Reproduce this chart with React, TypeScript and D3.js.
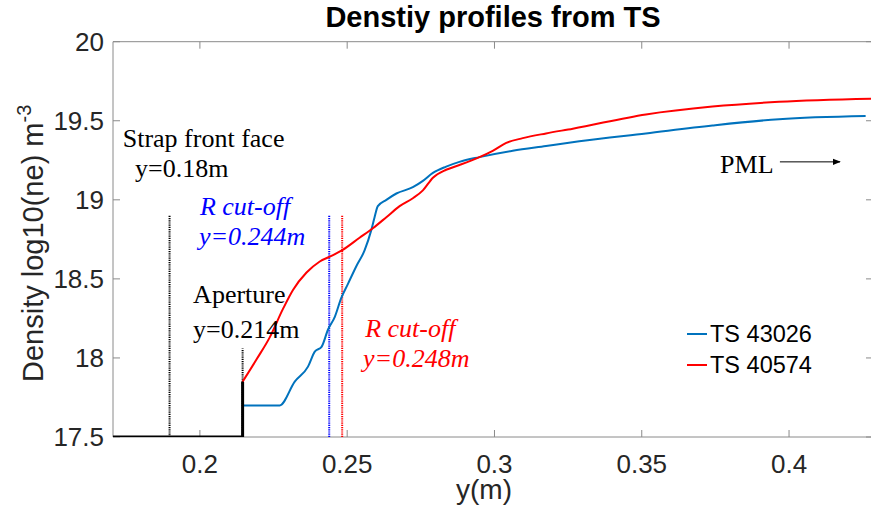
import React from "react";
import * as d3 from "d3";

const title = "Denstiy profiles from TS";
const xTicks = [0.2, 0.25, 0.3, 0.35, 0.4];
const yTicks = [17.5, 18, 18.5, 19, 19.5, 20];

const blueName = "TS 43026";
const blueX = [0.2145, 0.2271, 0.2322, 0.2367, 0.239, 0.2413, 0.2435, 0.2458, 0.248, 0.2503, 0.2531, 0.2559, 0.2582, 0.2593, 0.2604, 0.2633, 0.2667, 0.2723, 0.2757, 0.2791, 0.2836, 0.2881, 0.2949, 0.3062, 0.3175, 0.3288, 0.3514, 0.374, 0.3966, 0.426];
const blueY = [17.7, 17.7, 17.85, 17.945, 18.04, 18.07, 18.18, 18.26, 18.38, 18.47, 18.58, 18.68, 18.81, 18.89, 18.96, 19.0, 19.04, 19.08, 19.12, 19.17, 19.21, 19.24, 19.27, 19.31, 19.34, 19.37, 19.42, 19.47, 19.51, 19.53];

const redName = "TS 40574";
const redX = [0.2145, 0.2192, 0.2237, 0.2282, 0.2316, 0.2362, 0.2407, 0.2452, 0.2482, 0.2542, 0.2587, 0.2633, 0.2678, 0.2723, 0.2757, 0.2791, 0.2836, 0.2881, 0.2949, 0.2994, 0.304, 0.3096, 0.3175, 0.3266, 0.3514, 0.374, 0.3966, 0.4289];
const redY = [17.85, 17.99, 18.13, 18.31, 18.43, 18.54, 18.61, 18.65, 18.68, 18.76, 18.82, 18.89, 18.96, 19.01, 19.06, 19.14, 19.19, 19.22, 19.27, 19.31, 19.36, 19.39, 19.42, 19.45, 19.54, 19.59, 19.62, 19.64];

const stepX = [0.1705, 0.2145, 0.2145];
const stepY = [17.5, 17.5, 17.85];

// vertical markers: [x, top]
const strapMarker = [0.1897, 18.9];
const apertureMarker = [0.2145, 18.06];
const blueCutoff = [0.2439, 18.9];
const redCutoff = [0.2483, 18.9];

const SANS = "'Liberation Sans', Arial, Helvetica, sans-serif";
const SERIF = "'Liberation Serif', 'Times New Roman', serif";
const BLUE = "#0072BD";
const RED = "#FF0000";

export default function App() {
  const W = 871, H = 510;
  const x = d3.scaleLinear().domain([0.1705, 0.4285]).range([113, 873]);
  const y = d3.scaleLinear().domain([17.5, 20]).range([437, 41.7]);
  const line = d3.line<[number, number]>().x(d => x(d[0])).y(d => y(d[1])).curve(d3.curveMonotoneX);
  const lin = d3.line<[number, number]>().x(d => x(d[0])).y(d => y(d[1]));
  const blue = blueX.map((v, i) => [v, blueY[i]] as [number, number]);
  const red = redX.map((v, i) => [v, redY[i]] as [number, number]);
  const step = stepX.map((v, i) => [v, stepY[i]] as [number, number]);
  const [x0, x1] = x.range();
  const [yb, yt] = y.range();
  const axisColor = "#8a8a8a";
  const textColor = "#262626";
  const marker = (m: number[], color: string, key: string) => (
    <line key={key} x1={x(m[0])} x2={x(m[0])} y1={y(17.5)} y2={y(m[1])} stroke={color} strokeWidth={2} strokeDasharray="1.2,1" />
  );
  return (
    <svg width={W} height={H} style={{ position: "absolute", left: 0, top: 0, background: "#fff" }}>
      <defs>
        <clipPath id="plot"><rect x={x0} y={yt} width={x1 - x0} height={yb - yt} /></clipPath>
        <marker id="arr" viewBox="0 0 10 10" refX="9" refY="5" markerWidth="8" markerHeight="8" orient="auto">
          <path d="M0,1 L10,5 L0,9 z" fill="#000" />
        </marker>
      </defs>
      <rect width={W} height={H} fill="#fff" />
      {/* axes box */}
      <line x1={x0} x2={x1} y1={yb} y2={yb} stroke={axisColor} />
      <line x1={x0} x2={x1} y1={yt} y2={yt} stroke={axisColor} />
      <line x1={x0} x2={x0} y1={yt} y2={yb} stroke={axisColor} />
      <line x1={x1} x2={x1} y1={yt} y2={yb} stroke={axisColor} />
      {xTicks.map(t => (
        <g key={"xt" + t}>
          <line x1={x(t)} x2={x(t)} y1={yb} y2={yb - 7} stroke={axisColor} />
          <line x1={x(t)} x2={x(t)} y1={yt} y2={yt + 7} stroke={axisColor} />
          <text x={x(t)} y={473} textAnchor="middle" fontFamily={SANS} fontSize={26} fill={textColor}>{String(t)}</text>
        </g>
      ))}
      {yTicks.map(t => (
        <g key={"yt" + t}>
          <line x1={x0} x2={x0 + 7} y1={y(t)} y2={y(t)} stroke={axisColor} />
          <line x1={x1} x2={x1 - 7} y1={y(t)} y2={y(t)} stroke={axisColor} />
          <text x={104} y={y(t) + 9} textAnchor="end" fontFamily={SANS} fontSize={26} fill={textColor}>{String(t)}</text>
        </g>
      ))}
      <text x={493} y={27} textAnchor="middle" fontFamily={SANS} fontWeight="bold" fontSize={29} fill="#000">{title}</text>
      <text x={484} y={499} textAnchor="middle" fontFamily={SANS} fontSize={28} fill={textColor}>y(m)</text>
      <text transform="rotate(-90)" x={-382} y={43} textAnchor="start" fontFamily={SANS} fontSize={29} fill={textColor}>
        Density log10(ne) m<tspan fontSize={20} dy={-12}>-3</tspan>
      </text>

      <g clipPath="url(#plot)">
        {marker(strapMarker, "#000", "m1")}
        {marker(apertureMarker, "#000", "m2")}
        {marker(blueCutoff, "#0000FF", "m3")}
        {marker(redCutoff, RED, "m4")}
        <path d={line(blue) || ""} fill="none" stroke={BLUE} strokeWidth={2} />
        <path d={line(red) || ""} fill="none" stroke={RED} strokeWidth={2} />
        <path d={lin(step) || ""} fill="none" stroke="#000" strokeWidth={3} />
      </g>

      {/* annotations */}
      <g fontFamily={SERIF} fontSize={26}>
        <text x={x(0.1738)} y={y(19.334)} fill="#000">Strap front face</text>
        <text x={x(0.178)} y={y(19.144)} fill="#000">y=0.18m</text>
        <text x={x(0.2)} y={y(18.904)} fill="#0000FF" fontStyle="italic">R cut-off</text>
        <text x={x(0.1997)} y={y(18.714)} fill="#0000FF" fontStyle="italic">y=0.244m</text>
        <text x={x(0.1977)} y={y(18.347)} fill="#000">Aperture</text>
        <text x={x(0.1977)} y={y(18.126)} fill="#000">y=0.214m</text>
        <text x={x(0.2561)} y={y(18.134)} fill={RED} fontStyle="italic">R cut-off</text>
        <text x={x(0.2554)} y={y(17.945)} fill={RED} fontStyle="italic">y=0.248m</text>
        <text x={x(0.3766)} y={y(19.17)} fill="#000">PML</text>
      </g>
      <line x1={x(0.3969)} x2={x(0.4173)} y1={y(19.24)} y2={y(19.24)} stroke="#000" strokeWidth={1} markerEnd="url(#arr)" />

      {/* legend */}
      <g fontFamily={SANS} fontSize={23.5} fill="#000">
        <line x1={687} x2={707} y1={334} y2={334} stroke={BLUE} strokeWidth={2} />
        <text x={710} y={342}>{blueName}</text>
        <line x1={687} x2={707} y1={365} y2={365} stroke={RED} strokeWidth={2} />
        <text x={710} y={373}>{redName}</text>
      </g>
    </svg>
  );
}
